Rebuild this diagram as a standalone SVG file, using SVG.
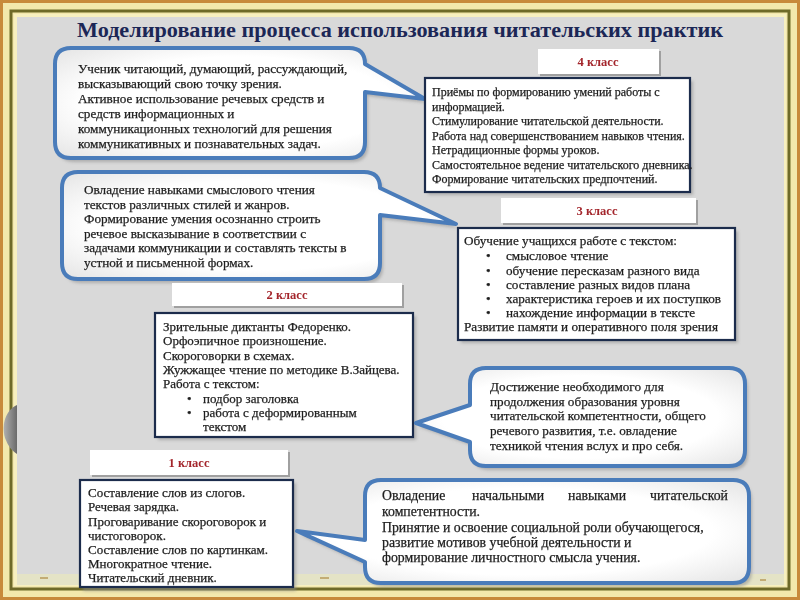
<svg xmlns="http://www.w3.org/2000/svg" width="800" height="600" viewBox="0 0 800 600">
<defs>
<style>
.t{font-family:"Liberation Serif","Times New Roman",serif;font-size:13px;fill:#1e1e1e;stroke:#1e1e1e;stroke-width:0.25}
.b4{font-size:12px}
.b3{font-size:13.2px}
.c{font-size:13.2px}
.c4{font-size:13.8px}
.lab{font-family:"Liberation Serif","Times New Roman",serif;font-size:12.5px;font-weight:bold;fill:#a3252b;text-anchor:middle}
.title{font-family:"Liberation Serif","Times New Roman",serif;font-size:22px;font-weight:bold;fill:#1c2756}
.call{fill:url(#cg);stroke:#4a7cba;stroke-width:4;stroke-linejoin:round}
.box{fill:#ffffff;stroke:#1c2c4c;stroke-width:2.2}
.labbox{fill:#ffffff}
.sh{fill:#8a8a8a;opacity:0.55}
</style>
<radialGradient id="cg" cx="0.5" cy="0.5" r="0.7">
<stop offset="0.6" stop-color="#ffffff"/>
<stop offset="1" stop-color="#e4e4e4"/>
</radialGradient>
<filter id="blur" x="-10%" y="-10%" width="120%" height="120%"><feGaussianBlur stdDeviation="1.5"/></filter>
<linearGradient id="blob" x1="0" y1="0" x2="1" y2="0">
<stop offset="0" stop-color="#b0b0b0"/>
<stop offset="1" stop-color="#6a6a6a"/>
</linearGradient>
</defs>

<!-- frame -->
<rect x="0" y="0" width="800" height="600" fill="#c88a3c"/>
<rect x="3" y="3" width="794" height="594" fill="#f3e8ad"/>
<rect x="11" y="11" width="778" height="578" fill="none" stroke="#6e6a28" stroke-width="3"/>
<rect x="14" y="14" width="772" height="572" fill="#f7f0c0"/>
<rect x="17" y="17" width="767" height="568" fill="#d9d9d9"/>
<rect x="17" y="574" width="767" height="11" fill="#e4e3c6"/>
<path d="M40,578 h8 M90,580 h6 M150,577 h10 M230,579 h7 M320,578 h9 M410,580 h6 M520,577 h8 M600,579 h10 M690,578 h7 M760,580 h6" stroke="#b89a5a" stroke-width="1.5"/>
<path d="M17,405 C6,410 1,424 5,438 C8,446 12,451 17,454 Z" fill="url(#blob)"/>

<text class="title" x="400" y="37" text-anchor="middle" textLength="646" lengthAdjust="spacingAndGlyphs">Моделирование процесса использования читательских практик</text>

<!-- shadows -->
<g filter="url(#blur)">
<path class="sh" d="M74,52 H352 Q368,52 368,68 L428,103 L368,96 V146 Q368,162 352,162 H74 Q58,162 58,146 V68 Q58,52 74,52 Z"/>
<path class="sh" d="M81,176 H367 Q383,176 383,192 L459,228 L383,219 V267 Q383,283 367,283 H81 Q65,283 65,267 V192 Q65,176 81,176 Z"/>
<path class="sh" d="M489,372 H732 Q748,372 748,388 V454 Q748,470 732,470 H489 Q473,470 473,454 V446 L419,427 L473,409 V388 Q473,372 489,372 Z"/>
<path class="sh" d="M384,484 H736 Q752,484 752,500 V571 Q752,587 736,587 H384 Q368,587 368,571 V566 L300,535 L368,544 V500 Q368,484 384,484 Z"/>
<rect class="sh" x="428" y="81" width="265" height="114"/>
<rect class="sh" x="461" y="231" width="277" height="112"/>
<rect class="sh" x="158" y="316" width="258" height="124"/>
<rect class="sh" x="83" y="483" width="213" height="108"/>
</g>

<!-- connectors (callout pointers are part of the callout outlines) -->
<g id="connectors"></g>

<g id="callout-top">
<path class="call" d="M71,48 H349 Q365,48 365,64 L425,99 L365,92 V142 Q365,158 349,158 H71 Q55,158 55,142 V64 Q55,48 71,48 Z"/>
<text class="t c">
<tspan x="78" y="73">Ученик читающий, думающий, рассуждающий,</tspan>
<tspan x="78" y="88">высказывающий свою точку зрения.</tspan>
<tspan x="78" y="103">Активное использование речевых средств и</tspan>
<tspan x="78" y="118">средств информационных  и</tspan>
<tspan x="78" y="133">коммуникационных технологий для решения</tspan>
<tspan x="78" y="148">коммуникативных и познавательных задач.</tspan>
</text>
</g>

<g id="label-4">
<rect x="540" y="51" width="121" height="25" fill="#a0a0a0"/>
<rect class="labbox" x="538" y="49" width="121" height="25"/>
<text class="lab" x="598" y="66">4 класс</text>
</g>

<g id="box-4">
<rect class="box" x="425" y="78" width="265" height="114"/>
<text class="t b4">
<tspan x="432" y="96">Приёмы по формированию умений работы с</tspan>
<tspan x="432" y="110.5">информацией.</tspan>
<tspan x="432" y="125">Стимулирование читательской деятельности.</tspan>
<tspan x="432" y="139.5">Работа над совершенствованием навыков чтения.</tspan>
<tspan x="432" y="154">Нетрадиционные формы уроков.</tspan>
<tspan x="432" y="168.5">Самостоятельное ведение читательского дневника.</tspan>
<tspan x="432" y="183">Формирование читательских предпочтений.</tspan>
</text>
</g>

<g id="callout-mid">
<path class="call" d="M78,172 H364 Q380,172 380,188 L456,224 L380,215 V263 Q380,279 364,279 H78 Q62,279 62,263 V188 Q62,172 78,172 Z"/>
<text class="t c">
<tspan x="84" y="194">Овладение навыками смыслового чтения</tspan>
<tspan x="84" y="208.6">текстов различных стилей и жанров.</tspan>
<tspan x="84" y="223.2">Формирование умения осознанно строить</tspan>
<tspan x="84" y="237.8">речевое высказывание в соответствии с</tspan>
<tspan x="84" y="252.4">задачами коммуникации и составлять тексты в</tspan>
<tspan x="84" y="267">устной и письменной  формах.</tspan>
</text>
</g>

<g id="label-3">
<rect x="503" y="200" width="195" height="25" fill="#a0a0a0"/>
<rect class="labbox" x="501" y="198" width="195" height="25"/>
<text class="lab" x="597" y="215">3 класс</text>
</g>

<g id="box-3">
<rect class="box" x="458" y="228" width="277" height="112"/>
<text class="t b3">
<tspan x="464" y="245">Обучение учащихся работе с текстом:</tspan>
<tspan x="486" y="260">•</tspan><tspan x="506" y="260">смысловое чтение</tspan>
<tspan x="486" y="275">•</tspan><tspan x="506" y="275">обучение пересказам разного вида</tspan>
<tspan x="486" y="289">•</tspan><tspan x="506" y="289">составление разных видов плана</tspan>
<tspan x="486" y="303">•</tspan><tspan x="506" y="303">характеристика героев и их поступков</tspan>
<tspan x="486" y="317">•</tspan><tspan x="506" y="317">нахождение информации в тексте</tspan>
<tspan x="464" y="331">Развитие памяти и оперативного поля зрения</tspan>
</text>
</g>

<g id="label-2">
<rect x="174" y="285" width="230" height="23" fill="#a0a0a0"/>
<rect class="labbox" x="172" y="283" width="230" height="23"/>
<text class="lab" x="287" y="299">2 класс</text>
</g>

<g id="box-2">
<rect class="box" x="155" y="313" width="258" height="124"/>
<text class="t">
<tspan x="163" y="331">Зрительные диктанты Федоренко.</tspan>
<tspan x="163" y="345">Орфоэпичное произношение.</tspan>
<tspan x="163" y="359.5">Скороговорки в схемах.</tspan>
<tspan x="163" y="374">Жужжащее чтение по методике В.Зайцева.</tspan>
<tspan x="163" y="388">Работа с текстом:</tspan>
<tspan x="187" y="403">•</tspan><tspan x="203" y="403">подбор заголовка</tspan>
<tspan x="187" y="417">•</tspan><tspan x="203" y="417">работа с деформированным</tspan>
<tspan x="203" y="431">текстом</tspan>
</text>
</g>

<g id="callout-right">
<path class="call" d="M486,368 H729 Q745,368 745,384 V450 Q745,466 729,466 H486 Q470,466 470,450 V442 L416,423 L470,405 V384 Q470,368 486,368 Z"/>
<text class="t c">
<tspan x="490" y="391">Достижение необходимого для</tspan>
<tspan x="490" y="405.5">продолжения образования уровня</tspan>
<tspan x="490" y="420">читательской компетентности, общего</tspan>
<tspan x="490" y="435">речевого развития, т.е. овладение</tspan>
<tspan x="490" y="450">техникой чтения вслух и про себя.</tspan>
</text>
</g>

<g id="label-1">
<rect x="92" y="452" width="198" height="25" fill="#a0a0a0"/>
<rect class="labbox" x="90" y="450" width="198" height="25"/>
<text class="lab" x="189" y="467">1 класс</text>
</g>

<g id="box-1">
<rect class="box" x="80" y="480" width="213" height="107"/>
<text class="t">
<tspan x="88" y="497">Составление  слов из слогов.</tspan>
<tspan x="88" y="511">Речевая зарядка.</tspan>
<tspan x="88" y="526">Проговаривание скороговорок  и</tspan>
<tspan x="88" y="540">чистоговорок.</tspan>
<tspan x="88" y="554">Составление слов по картинкам.</tspan>
<tspan x="88" y="568">Многократное чтение.</tspan>
<tspan x="88" y="582">Читательский дневник.</tspan>
</text>
</g>

<g id="callout-bottom">
<path class="call" d="M381,480 H733 Q749,480 749,496 V567 Q749,583 733,583 H381 Q365,583 365,567 V562 L297,531 L365,540 V496 Q365,480 381,480 Z"/>
<text class="t c4" x="382" y="500">Овладение</text>
<text class="t c4" x="472" y="500">начальными</text>
<text class="t c4" x="568" y="500">навыками</text>
<text class="t c4" x="728" y="500" text-anchor="end">читательской</text>
<text class="t c4">
<tspan x="382" y="516">компетентности.</tspan>
<tspan x="382" y="532">Принятие и освоение социальной роли обучающегося,</tspan>
<tspan x="382" y="547">развитие мотивов учебной деятельности и</tspan>
<tspan x="382" y="562">формирование личностного смысла учения.</tspan>
</text>
</g>
</svg>
